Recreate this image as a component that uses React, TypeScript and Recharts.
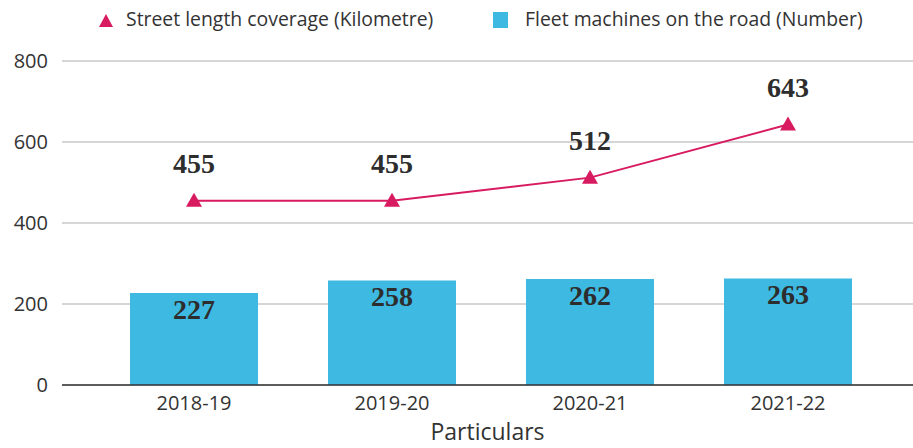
import React from "react";
import {
  ComposedChart,
  Bar,
  Line,
  XAxis,
  YAxis,
  CartesianGrid,
  Legend,
  LabelList,
} from "recharts";

const periods = ["2018-19", "2019-20", "2020-21", "2021-22"];
const streetLength = [455, 455, 512, 643];
const fleetMachines = [227, 258, 262, 263];
const yTicks = [0, 200, 400, 600, 800];

const data = periods.map((p, i) => ({
  period: p,
  street: streetLength[i],
  fleet: fleetMachines[i],
}));

const PINK = "#d81b60";
const BLUE = "#3db9e2";
const SANS = "'Open Sans', sans-serif";
const SERIF = "'Liberation Serif', serif";

const Triangle = (props: any) => {
  const { cx, cy } = props;
  if (cx == null || cy == null) return null;
  return (
    <path
      d={`M${cx},${cy - 8} L${cx + 8},${cy + 6} L${cx - 8},${cy + 6} Z`}
      fill={PINK}
    />
  );
};

const LegendContent = () => (
  <div
    style={{
      position: "relative",
      height: 40,
      fontFamily: SANS,
      fontSize: 19.4,
      lineHeight: "26px",
      color: "#333",
    }}
  >
    <svg style={{ position: "absolute", left: 98, top: 5 }} width={16} height={16}>
      <path d="M8,1 L15,14 L1,14 Z" fill={PINK} />
    </svg>
    <span style={{ position: "absolute", left: 126, top: -2, whiteSpace: "nowrap" }}>
      Street length coverage (Kilometre)
    </span>
    <div
      style={{ position: "absolute", left: 493, top: 4, width: 15, height: 16, background: BLUE }}
    />
    <span style={{ position: "absolute", left: 525, top: -2, whiteSpace: "nowrap" }}>
      Fleet machines on the road (Number)
    </span>
  </div>
);

export default function App() {
  return (
    <div style={{ position: "absolute", left: 0, top: 0 }}>
      <ComposedChart
        width={913}
        height={448}
        data={data}
        margin={{ top: 8, right: 0, bottom: 0, left: 0 }}
      >
        <Legend verticalAlign="top" height={53} content={<LegendContent />} />
        <CartesianGrid vertical={false} stroke="#c8c8c8" strokeWidth={1.5} />
        <XAxis
          dataKey="period"
          height={63}
          padding={{ left: 33, right: 26 }}
          tickLine={false}
          tickMargin={5}
          axisLine={{ stroke: "#333", strokeWidth: 1.5 }}
          tick={{ fill: "#333", fontSize: 20, fontFamily: SANS }}
          label={{
            value: "Particulars",
            position: "insideBottom",
            offset: 8,
            fill: "#333",
            fontSize: 23,
            fontFamily: SANS,
          }}
        />
        <YAxis
          width={62}
          domain={[0, 800]}
          ticks={yTicks}
          tickLine={false}
          axisLine={false}
          tickMargin={8}
          tick={{ fill: "#333", fontSize: 20, fontFamily: SANS }}
        />
        <Bar dataKey="fleet" fill={BLUE} barSize={128} isAnimationActive={false}>
          <LabelList
            dataKey="fleet"
            position="insideTop"
            offset={6}
            fill="#2d2d2d"
            fontSize={28}
            fontWeight="bold"
            fontFamily={SERIF}
          />
        </Bar>
        <Line
          dataKey="street"
          stroke={PINK}
          strokeWidth={2}
          dot={<Triangle />}
          activeDot={false}
          isAnimationActive={false}
        >
          <LabelList
            dataKey="street"
            position="top"
            offset={28}
            fill="#2d2d2d"
            fontSize={28}
            fontWeight="bold"
            fontFamily={SERIF}
          />
        </Line>
      </ComposedChart>
    </div>
  );
}
